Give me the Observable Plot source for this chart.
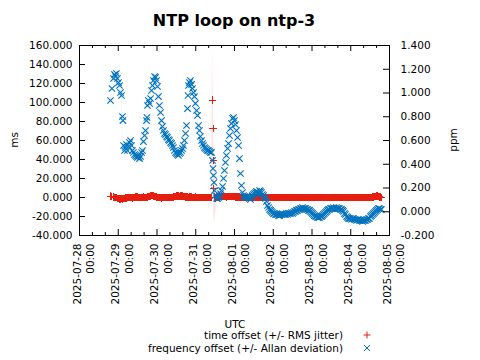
<!DOCTYPE html>
<html><head><meta charset="utf-8">
<script src="https://cdn.jsdelivr.net/npm/d3@7"></script>
<script src="https://cdn.jsdelivr.net/npm/@observablehq/plot@0.6"></script>
<style>
html,body{margin:0;padding:0;background:#fff;}
#wrap{position:relative;width:480px;height:360px;font-family:"DejaVu Sans",sans-serif;color:#000;overflow:hidden;}
#wrap > svg{position:absolute;left:0;top:0;}
.t{position:absolute;white-space:nowrap;font-size:10.5px;line-height:14px;}
</style></head><body><div id="wrap"></div>
<script>
const titleText = "NTP loop on ntp-3";
const startDate = "2025-07-28T00:00:00Z";
const xTickLabels = ["2025-07-28","2025-07-29","2025-07-30","2025-07-31","2025-08-01","2025-08-02","2025-08-03","2025-08-04","2025-08-05"];
const msTicks = [-40,-20,0,20,40,60,80,100,120,140,160];
const ppmTicks = [-0.2,0,0.2,0.4,0.6,0.8,1.0,1.2,1.4];
const seriesNames = ["time offset (+/- RMS jitter)", "frequency offset (+/- Allan deviation)"];

// hours since 2025-07-28 00:00 UTC
const hours = [
19.2,20.1,21.1,21.7,22.3,22.9,23.5,24.2,24.8,25.4,
26.0,26.6,26.9,27.3,27.9,28.5,29.1,29.7,30.3,31.0,
31.6,32.2,32.8,33.4,34.1,34.7,35.3,35.9,36.5,37.2,
37.8,38.4,39.0,39.6,40.3,40.9,41.5,41.8,42.1,42.7,
43.4,44.0,44.6,45.2,45.8,46.5,47.1,47.7,48.3,48.9,
49.5,50.2,50.8,51.4,52.0,52.6,53.3,53.9,54.5,55.1,
55.7,56.4,57.0,57.6,58.2,58.8,59.5,60.1,60.7,61.3,
61.9,62.6,63.2,63.8,64.4,65.0,65.7,66.3,66.9,67.2,
67.5,68.1,68.7,69.4,70.0,70.6,71.2,71.8,72.5,73.1,
73.7,74.3,74.9,75.6,76.2,76.8,77.4,78.0,78.7,79.3,
79.9,80.5,81.1,81.8,82.4,82.7,83.0,83.3,83.6,84.2,
84.9,85.5,86.1,86.7,87.3,87.9,88.6,89.2,89.8,90.4,
91.0,91.7,92.3,92.9,93.5,94.1,94.8,95.4,96.0,96.6,
97.2,97.9,98.5,99.1,99.7,100.3,101.0,
101.6,102.2,102.8,103.4,104.1,104.7,105.3,105.9,106.5,107.1,
107.8,108.4,109.0,109.6,110.2,110.9,111.5,112.1,112.7,113.3,
114.0,114.6,115.2,115.8,116.4,117.1,117.7,118.3,118.9,119.5,
120.2,120.8,121.4,122.0,122.6,123.3,123.9,124.5,125.1,125.7,
126.3,127.0,127.6,128.2,128.8,129.4,130.1,130.7,131.3,131.9,
132.5,133.2,133.8,134.4,135.0,135.6,136.3,136.9,137.5,138.1,
138.7,139.4,140.0,140.6,141.2,141.8,142.5,143.1,143.7,144.3,
144.9,145.5,146.2,146.8,147.4,148.0,148.6,149.3,149.9,150.5,
151.1,151.7,152.4,153.0,153.6,154.2,154.8,155.5,156.1,156.7,
157.3,157.9,158.6,159.2,159.8,160.4,161.0,161.7,162.3,162.9,
163.5,164.1,164.7,165.4,166.0,166.6,167.2,167.8,168.5,169.1,
169.7,170.3,170.9,171.6,172.2,172.8,173.4,174.0,174.7,175.3,
175.9,176.5,177.1,177.8,178.4,179.0,179.6,180.2,180.8,181.5,
182.1,182.7,183.3,183.9,184.6,185.2,185.8,186.4,187.0];

const freqPpm = [
0.937,1.038,1.122,1.156,1.139,1.164,1.122,1.088,1.063,1.004,
0.979,0.802,0.768,0.558,0.516,0.541,0.566,0.516,0.549,0.583,
0.600,0.558,0.516,0.499,0.482,0.474,0.465,0.457,0.465,0.448,
0.465,0.499,0.516,0.591,0.642,0.684,0.768,0.794,0.895,0.937,
0.912,0.954,1.021,1.063,1.105,1.139,1.131,1.105,1.055,0.970,
0.895,0.836,0.768,0.718,0.684,0.659,0.650,0.634,0.625,0.608,
0.600,0.583,0.575,0.558,0.541,0.516,0.499,0.491,0.482,0.474,
0.491,0.499,0.516,0.533,0.558,0.600,0.659,0.726,0.869,0.979,
1.063,1.088,1.105,1.072,1.038,1.004,0.970,0.912,0.853,0.811,
0.726,0.684,0.634,0.600,0.575,0.558,0.541,0.533,0.524,0.516,
0.516,0.507,0.499,0.499,0.432,0.364,0.305,0.246,0.179,0.137,
0.112,0.112,0.120,0.128,0.154,0.179,0.213,0.280,0.347,0.415,
0.474,0.533,0.575,0.642,0.701,0.743,0.785,0.794,0.768,0.735,
0.684,0.625,0.558,0.448,0.322,0.221,0.162,
0.137,0.128,0.120,0.128,0.128,0.120,0.112,0.104,0.120,0.137,
0.145,0.154,0.162,0.171,0.154,0.162,0.179,0.171,0.162,0.145,
0.137,0.120,0.112,0.087,0.053,0.036,0.019,0.011,0.002,-0.006,
-0.015,-0.015,-0.023,-0.023,-0.023,-0.032,-0.032,-0.023,-0.023,-0.015,
-0.023,-0.023,-0.023,-0.015,-0.023,-0.015,-0.015,-0.015,-0.006,-0.015,
-0.006,0.002,0.002,0.011,0.011,0.019,0.019,0.027,0.027,0.036,
0.027,0.027,0.027,0.019,0.019,0.011,0.011,0.002,-0.006,-0.015,
-0.023,-0.032,-0.040,-0.040,-0.048,-0.048,-0.048,-0.040,-0.040,-0.032,
-0.023,-0.015,-0.006,0.002,0.011,0.019,0.019,0.027,0.027,0.027,
0.036,0.027,0.027,0.036,0.027,0.027,0.027,0.019,0.019,0.011,
0.002,-0.015,-0.023,-0.040,-0.048,-0.057,-0.057,-0.057,-0.065,-0.057,
-0.057,-0.065,-0.065,-0.074,-0.065,-0.065,-0.074,-0.074,-0.074,-0.082,
-0.074,-0.074,-0.074,-0.065,-0.065,-0.057,-0.057,-0.040,-0.032,-0.023,
-0.015,-0.006,0.002,0.011,0.019,0.027,0.027,0.019,0.019];

const allanPpm = [
0.012,0.012,0.012,0.012,0.012,0.012,0.012,0.012,0.012,0.015,
0.020,0.040,0.050,0.030,0.015,0.012,0.012,0.012,0.012,0.012,
0.012,0.012,0.012,0.012,0.012,0.012,0.012,0.012,0.012,0.012,
0.012,0.012,0.012,0.012,0.015,0.015,0.015,0.015,0.015,0.015,
0.012,0.012,0.012,0.012,0.012,0.012,0.012,0.012,0.015,0.015,
0.015,0.012,0.012,0.012,0.012,0.012,0.012,0.012,0.012,0.012,
0.012,0.012,0.012,0.012,0.012,0.012,0.012,0.012,0.012,0.012,
0.012,0.012,0.012,0.012,0.012,0.012,0.015,0.020,0.020,0.020,
0.015,0.012,0.012,0.012,0.012,0.012,0.012,0.015,0.015,0.015,
0.012,0.012,0.012,0.012,0.012,0.012,0.012,0.012,0.012,0.012,
0.012,0.012,0.012,0.012,0.020,0.030,0.030,0.030,0.030,0.020,
0.015,0.012,0.012,0.012,0.012,0.012,0.015,0.015,0.015,0.015,
0.015,0.015,0.012,0.012,0.012,0.012,0.012,0.012,0.012,0.012,
0.012,0.015,0.015,0.020,0.020,0.015,0.012,
0.010,0.010,0.010,0.010,0.010,0.010,0.010,0.010,0.010,0.010,
0.010,0.010,0.010,0.010,0.010,0.010,0.010,0.010,0.010,0.010,
0.010,0.010,0.010,0.010,0.010,0.010,0.010,0.010,0.010,0.010,
0.010,0.010,0.010,0.010,0.010,0.010,0.010,0.010,0.010,0.010,
0.010,0.010,0.010,0.010,0.010,0.010,0.010,0.010,0.010,0.010,
0.010,0.010,0.010,0.010,0.010,0.010,0.010,0.010,0.010,0.010,
0.010,0.010,0.010,0.010,0.010,0.010,0.010,0.010,0.010,0.010,
0.010,0.010,0.010,0.010,0.010,0.010,0.010,0.010,0.010,0.010,
0.010,0.010,0.010,0.010,0.010,0.010,0.010,0.010,0.010,0.010,
0.010,0.010,0.010,0.010,0.010,0.010,0.010,0.010,0.010,0.010,
0.010,0.010,0.010,0.010,0.010,0.010,0.010,0.010,0.010,0.010,
0.010,0.010,0.010,0.010,0.010,0.010,0.010,0.010,0.010,0.010,
0.010,0.010,0.010,0.010,0.010,0.010,0.010,0.010,0.010,0.010,
0.010,0.010,0.010,0.010,0.010,0.010,0.010,0.010,0.010];

const offsetMs = [
1.5,1.0,0.5,0.3,0.0,-0.3,-0.8,-1.2,-1.5,-1.4,
-1.0,-1.3,-1.6,-1.2,-0.9,-0.6,-0.4,0.0,0.3,0.2,
0.0,-0.3,-0.5,-0.2,0.1,0.4,0.6,0.5,0.3,0.0,
-0.2,0.0,0.2,0.4,0.3,0.1,0.0,0.2,0.5,0.8,
1.2,1.6,1.9,2.0,1.7,1.3,0.9,0.6,0.3,0.0,
-0.2,-0.3,-0.4,-0.2,0.0,0.1,0.0,-0.1,0.0,0.1,
0.2,0.1,0.0,0.2,0.5,0.9,1.2,1.4,1.5,1.4,
1.3,1.5,1.6,1.4,1.1,0.9,0.7,0.5,0.4,0.3,
0.3,0.4,0.5,0.4,0.3,0.2,0.3,0.4,0.3,0.2,
0.1,0.0,0.2,0.3,0.2,0.1,0.0,0.0,-0.1,0.0,
0.1,0.0,-0.2,0.0,102.5,72.5,39.0,9.5,0.5,-0.5,
0.0,0.3,0.5,0.7,0.8,0.9,1.0,1.0,0.9,0.8,
0.7,0.8,0.9,1.0,1.1,1.0,0.9,0.8,0.8,0.7,
0.6,0.5,0.5,0.4,0.3,0.3,0.2,
0.1,0.0,0.0,0.1,0.0,0.0,-0.1,0.0,0.1,0.0,
0.0,-0.1,0.0,0.1,0.0,0.0,0.0,0.1,0.0,0.0,
-0.1,0.0,0.0,0.1,0.0,0.0,0.0,-0.1,0.0,0.0,
0.1,0.0,0.0,0.0,-0.1,0.0,0.0,0.1,0.0,0.0,
0.0,0.1,0.0,-0.1,0.0,0.0,0.1,0.0,0.0,0.0,
-0.1,0.0,0.1,0.0,0.0,0.0,0.1,0.0,-0.1,0.0,
0.0,0.1,0.0,0.0,0.0,-0.1,0.0,0.1,0.0,0.0,
0.0,0.1,0.0,0.0,-0.1,0.0,0.0,0.1,0.0,0.0,
0.0,0.0,0.1,0.0,-0.1,0.0,0.0,0.1,0.0,0.0,
0.1,0.0,0.0,-0.1,0.0,0.0,0.1,0.0,0.0,0.0,
0.0,0.1,0.0,0.0,-0.1,0.0,0.1,0.0,0.0,0.0,
0.1,0.0,0.0,0.0,-0.1,0.0,0.0,0.1,0.0,0.0,
0.0,0.1,0.0,0.2,0.3,0.2,0.1,0.2,0.3,0.4,
0.6,0.9,1.2,1.5,1.4,1.1,0.7,0.4,0.2];

const jitterMs = [
0.4,0.4,0.4,0.4,0.4,0.4,0.4,0.4,0.4,0.4,
0.4,0.4,0.4,0.4,0.4,0.4,0.4,0.4,0.4,0.4,
0.4,0.4,0.4,0.4,0.4,0.4,0.4,0.4,0.4,0.4,
0.4,0.4,0.4,0.4,0.4,0.4,0.4,0.4,0.4,0.4,
0.4,0.4,0.4,0.4,0.4,0.4,0.4,0.4,0.4,0.4,
0.4,0.4,0.4,0.4,0.4,0.4,0.4,0.4,0.4,0.4,
0.4,0.4,0.4,0.4,0.4,0.4,0.4,0.4,0.4,0.4,
0.4,0.4,0.4,0.4,0.4,0.4,0.4,0.4,0.4,0.4,
0.4,0.4,0.4,0.4,0.4,0.4,0.4,0.4,0.4,0.4,
0.4,0.4,0.4,0.4,0.4,0.4,0.4,0.4,0.4,0.4,
0.4,0.4,0.4,0.4,60,45,35,30,28,18,
9,4,2,0.8,0.5,0.4,0.4,0.4,0.4,0.4,
0.4,0.4,0.4,0.4,0.4,0.4,0.4,0.4,0.4,0.4,
0.4,0.4,0.4,0.4,0.4,0.4,0.4,
0.3,0.3,0.3,0.3,0.3,0.3,0.3,0.3,0.3,0.3,
0.3,0.3,0.3,0.3,0.3,0.3,0.3,0.3,0.3,0.3,
0.3,0.3,0.3,0.3,0.3,0.3,0.3,0.3,0.3,0.3,
0.3,0.3,0.3,0.3,0.3,0.3,0.3,0.3,0.3,0.3,
0.3,0.3,0.3,0.3,0.3,0.3,0.3,0.3,0.3,0.3,
0.3,0.3,0.3,0.3,0.3,0.3,0.3,0.3,0.3,0.3,
0.3,0.3,0.3,0.3,0.3,0.3,0.3,0.3,0.3,0.3,
0.3,0.3,0.3,0.3,0.3,0.3,0.3,0.3,0.3,0.3,
0.3,0.3,0.3,0.3,0.3,0.3,0.3,0.3,0.3,0.3,
0.3,0.3,0.3,0.3,0.3,0.3,0.3,0.3,0.3,0.3,
0.3,0.3,0.3,0.3,0.3,0.3,0.3,0.3,0.3,0.3,
0.3,0.3,0.3,0.3,0.3,0.3,0.3,0.3,0.3,0.3,
0.3,0.3,0.3,0.3,0.3,0.3,0.3,0.3,0.3,0.3,
0.3,0.3,0.3,0.3,0.3,0.3,0.3,0.3,0.3];

const RED = "#e51e10";
const BLUE = "#0072bd";

const t0 = new Date(startDate).getTime();
const ppmToMs = d3.scaleLinear([-0.2, 1.4], [-40, 160]);
const rows = hours.map((h, i) => ({
  t: new Date(t0 + h * 3600e3),
  o: offsetMs[i], o1: offsetMs[i] - jitterMs[i], o2: offsetMs[i] + jitterMs[i],
  f: ppmToMs(freqPpm[i]), f1: ppmToMs(freqPpm[i] - allanPpm[i]), f2: ppmToMs(freqPpm[i] + allanPpm[i])
}));

const xTicks = xTickLabels.map(s => new Date(s + "T00:00:00Z"));
const xDomain = [xTicks[0], xTicks[xTicks.length - 1]];
const minorTicks = d3.utcHour.every(8).range(xDomain[0], xDomain[1]).filter(d => d.getUTCHours() !== 0);
const fmt3 = v => (Math.round(v * 1000) / 1000).toFixed(3);
const fmtDay = d3.utcFormat("%Y-%m-%d"), fmtTime = d3.utcFormat("%H:%M");

const W = 480, H = 300, ML = 79, MR = 91, MT = 45, MB = 65;
const FW = W - ML - MR, FH = H - MT - MB;

const chart = Plot.plot({
  width: W, height: H,
  marginLeft: ML, marginRight: MR, marginTop: MT, marginBottom: MB,
  style: {fontFamily: '"DejaVu Sans", sans-serif', fontSize: "10.5px", color: "#000", background: "transparent", overflow: "visible"},
  x: {type: "utc", domain: xDomain},
  y: {domain: [-40, 160]},
  marks: [
    Plot.areaY(rows, {x: "t", y1: "o1", y2: "o2", fill: RED, fillOpacity: 0.12, clip: true}),
    Plot.areaY(rows, {x: "t", y1: "f1", y2: "f2", fill: BLUE, fillOpacity: 0.15, clip: true}),
    Plot.dot(rows, {x: "t", y: "o", symbol: "plus", stroke: RED, r: 2.5, strokeWidth: 1, shapeRendering: "crispEdges"}),
    Plot.dot(rows, {x: "t", y: "f", symbol: "times", stroke: BLUE, r: 3, strokeWidth: 1.1}),
    Plot.frame({stroke: "#000", strokeWidth: 1}),
    Plot.ruleX(xTicks, {x: d => d, insetTop: FH - 6, stroke: "#000"}),
    Plot.ruleX(xTicks, {x: d => d, insetBottom: FH - 6, stroke: "#000"}),
    Plot.ruleX(minorTicks, {x: d => d, insetTop: FH - 3, stroke: "#000"}),
    Plot.ruleX(minorTicks, {x: d => d, insetBottom: FH - 3, stroke: "#000"}),
    Plot.ruleY(msTicks, {y: d => d, insetRight: FW - 6, stroke: "#000"}),
    Plot.ruleY(ppmTicks.map(p => ppmToMs(p)), {y: d => d, insetLeft: FW - 6, stroke: "#000"}),
    Plot.axisY(msTicks, {anchor: "left", tickSize: 0, tickPadding: 7, tickFormat: fmt3, label: null}),
    Plot.axisY(ppmTicks.map(p => ppmToMs(p)), {anchor: "right", tickSize: 0, tickPadding: 11, tickFormat: d => fmt3(ppmToMs.invert(d)), label: null}),
    Plot.axisX(xTicks, {anchor: "bottom", tickSize: 0, tickPadding: 8, tickRotate: -90, textAnchor: "end", lineAnchor: "middle", lineHeight: 1.33, dx: 3.5, tickFormat: d => fmtDay(d) + "\n" + fmtTime(d), label: null})
  ]
});

const wrap = document.getElementById("wrap");
wrap.appendChild(chart);

function addText(txt, css) {
  const d = document.createElement("div");
  d.className = "t";
  d.textContent = txt;
  d.setAttribute("style", css);
  wrap.appendChild(d);
  return d;
}
addText(titleText, "left:0;width:468px;text-align:center;top:11px;font-size:16px;line-height:20px;font-weight:bold;");
addText("ms", "left:14px;top:140px;transform:translate(-50%,-50%) rotate(-90deg);");
addText("ppm", "left:453px;top:140px;transform:translate(-50%,-50%) rotate(-90deg);");
addText("UTC", "left:0;width:470px;text-align:center;top:317px;");
addText(seriesNames[0], "right:137px;top:328px;text-align:right;");
addText(seriesNames[1], "right:137px;top:341px;text-align:right;");

function addMarker(path, color, cx, cy) {
  const ns = "http://www.w3.org/2000/svg";
  const s = document.createElementNS(ns, "svg");
  s.setAttribute("width", 10); s.setAttribute("height", 10);
  s.setAttribute("style", `position:absolute;left:${cx - 5}px;top:${cy - 5}px;`);
  const p = document.createElementNS(ns, "path");
  p.setAttribute("d", path); p.setAttribute("stroke", color); p.setAttribute("fill", "none");
  s.appendChild(p);
  wrap.appendChild(s);
}
addMarker("M1.5,5H8.5M5,1.5V8.5", RED, 367, 335);
addMarker("M2,2L8,8M8,2L2,8", BLUE, 367, 348);
</script>
</body></html>
